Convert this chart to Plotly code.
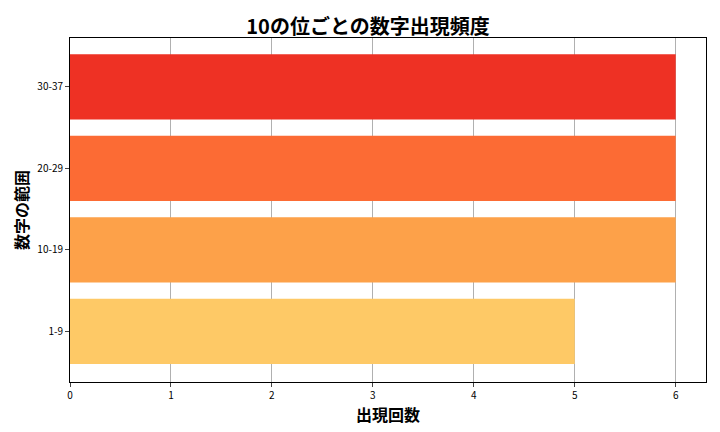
import plotly.graph_objects as go

ranges = ["1-9", "10-19", "20-29", "30-37"]
counts = [5, 6, 6, 6]
colors = ["#FEC966", "#FDA149", "#FC6B34", "#EE3124"]

fig = go.Figure(go.Bar(
    x=counts, y=ranges, orientation="h",
    marker=dict(color=colors, line=dict(width=0)),
    width=0.8,
))

fig.update_layout(
    width=720, height=432,
    margin=dict(l=62, r=22, t=30, b=58),
    paper_bgcolor="white", plot_bgcolor="white",
    font=dict(family="Noto Sans CJK JP", size=10, color="black"),
    title=dict(text="<b>10の位ごとの数字出現頻度</b>", x=0.5, xanchor="center",
               y=0.955, yanchor="middle", font=dict(size=20)),
    showlegend=False,
    bargap=0.2,
)
fig.update_xaxes(
    range=[0, 6.3], dtick=1, showgrid=True, gridcolor="#b0b0b0", gridwidth=1,
    showline=True, linecolor="black", mirror=True, ticks="outside", ticklen=4,
    title=dict(text="<b>出現回数</b>", font=dict(size=16), standoff=4), zeroline=False,
)
fig.update_yaxes(
    range=[-0.62, 3.6], showgrid=False,
    showline=True, linecolor="black", mirror=True, ticks="outside", ticklen=4,
    title=dict(text="<b>数字の範囲</b>", font=dict(size=16), standoff=4),
)

fig.write_html("out.html")
